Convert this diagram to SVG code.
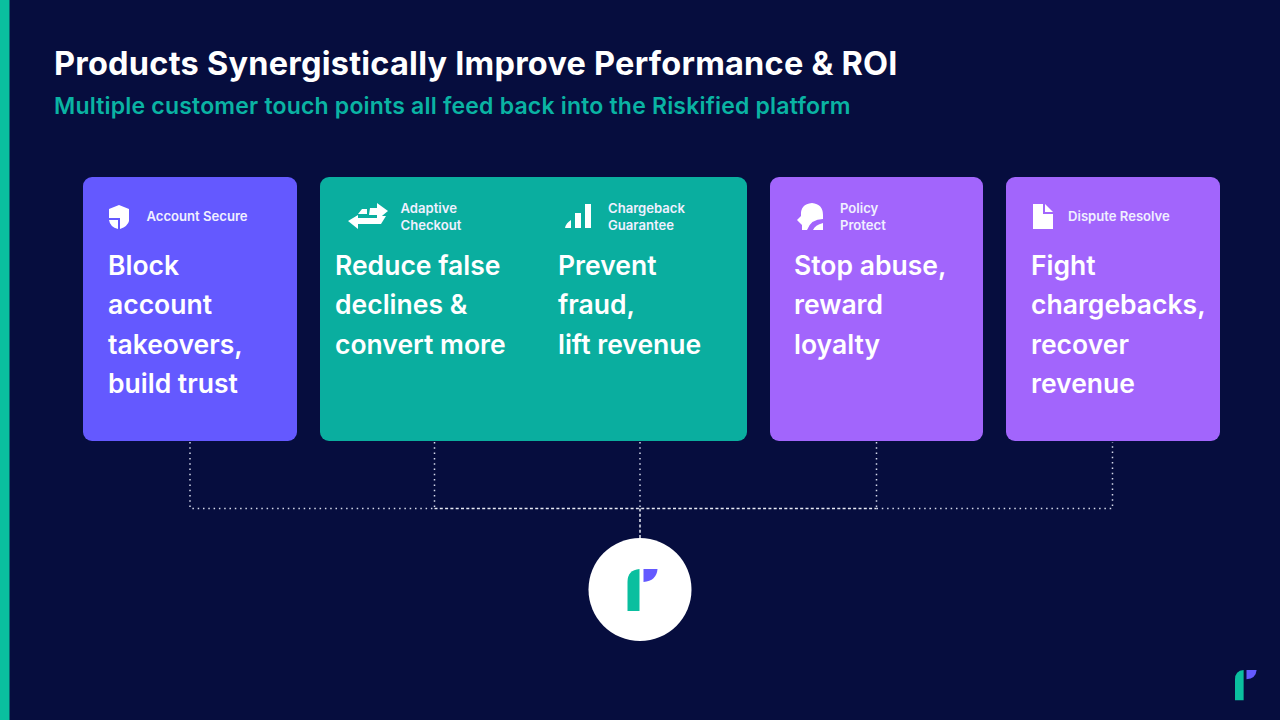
<svg xmlns="http://www.w3.org/2000/svg" width="1280" height="720" viewBox="0 0 1280 720">
<defs>
<style>
text{font-family:Inter,"Open Sans","Liberation Sans",sans-serif;font-weight:600;fill:#fff}
.t{font-size:32.500px;font-weight:700;letter-spacing:.23px}
.s{font-size:23px;letter-spacing:.2px;fill:#0ab3a3}
.h{font-size:26.500px}
.l{font-size:13.100px;fill:#f0f0ff}
.c{fill:none;stroke:#d5d9ea;stroke-width:1.500;stroke-dasharray:1.500 3.800}
.b{fill:none;stroke:#e8eaf4;stroke-width:1.500;stroke-dasharray:3 2.300}
.ic{fill:#fff}
</style>
<g id="logo-mark">
<path d="M0 42V13Q0 1 12 0V42Z" fill="#0abf9f"/>
<path d="M16 0H30Q29 12 16 13Z" fill="#6459ff"/>
</g>
</defs>
<rect width="1280" height="720" fill="#060d3e"/>
<rect width="9.500" height="720" fill="#0abf9f"/>
<text class="t" x="54" y="75">Products Synergistically Improve Performance &amp; ROI</text>
<text class="s" x="54" y="114">Multiple customer touch points all feed back into the Riskified platform</text>
<g id="connectors">
<path class="c" d="M190 442V508.500H434.500"/>
<path class="c" d="M876.500 508.500H1112.500V442"/>
<path class="c" d="M434.500 442V508.500"/>
<path class="c" d="M640 442V508.500"/>
<path class="c" d="M876.500 442V508.500"/>
<path class="b" d="M434.500 508.500H876.500"/>
<path class="b" d="M640 508.500V538"/>
</g>
<g id="node-account-secure">
<rect x="83" y="177" width="214" height="264" rx="9" fill="#6459ff"/>
<path class="ic" d="M119 205L129 209V221Q128 226 120 229V218H109V209ZM109 220H118V229Q110 227 109 220Z"/>
<text class="l" x="146.500" y="221">Account Secure</text>
<text class="h"><tspan x="108" y="275">Block</tspan><tspan x="108" y="314">account</tspan><tspan x="108" y="354">takeovers,</tspan><tspan x="108" y="393">build trust</tspan></text>
</g>
<g id="node-checkout-chargeback">
<rect x="320" y="177" width="427" height="264" rx="9" fill="#0aae9f"/>
<path class="ic" d="M370 208H377V203L388 211L377 220V215H369ZM362 209H367V214H358ZM386 216L381 224H358V229L348 221L358 215V218H379V216Z"/>
<text class="l"><tspan x="400.500" y="213">Adaptive</tspan><tspan x="400.500" y="230">Checkout</tspan></text>
<path class="ic" d="M565 228Q566 223 571 220V228ZM575 228V213H581V228ZM585 228V204H591V228Z"/>
<text class="l"><tspan x="608" y="213">Chargeback</tspan><tspan x="608" y="230">Guarantee</tspan></text>
<text class="h"><tspan x="335" y="275">Reduce false</tspan><tspan x="335" y="314">declines &amp;</tspan><tspan x="335" y="354">convert more</tspan></text>
<text class="h"><tspan x="558" y="275">Prevent</tspan><tspan x="558" y="314">fraud,</tspan><tspan x="558" y="354">lift revenue</tspan></text>
</g>
<g id="node-policy-protect">
<rect x="770" y="177" width="213" height="264" rx="9" fill="#a265fc"/>
<path class="ic" d="M812 203Q823 204 823 215V219Q811 219 807 230H802V225L797 220L801 216Q800 204 812 203ZM823 223V230H813Q815 225 823 223Z"/>
<text class="l"><tspan x="840" y="213">Policy</tspan><tspan x="840" y="230">Protect</tspan></text>
<text class="h"><tspan x="794" y="275">Stop abuse,</tspan><tspan x="794" y="314">reward</tspan><tspan x="794" y="354">loyalty</tspan></text>
</g>
<g id="node-dispute-resolve">
<rect x="1006" y="177" width="214" height="264" rx="9" fill="#a265fc"/>
<path class="ic" d="M1033 204H1043V214H1053V229H1033ZM1045 204L1053 212H1045Z"/>
<text class="l" x="1068" y="221">Dispute Resolve</text>
<text class="h"><tspan x="1031" y="275">Fight</tspan><tspan x="1031" y="314">chargebacks,</tspan><tspan x="1031" y="354">recover</tspan><tspan x="1031" y="393">revenue</tspan></text>
</g>
<g id="node-riskified">
<circle cx="640" cy="589.500" r="51.500" fill="#fff"/>
<use href="#logo-mark" x="627.500" y="569"/>
</g>
<use id="corner-logo" href="#logo-mark" transform="translate(1235 670) scale(.72)"/>
</svg>
